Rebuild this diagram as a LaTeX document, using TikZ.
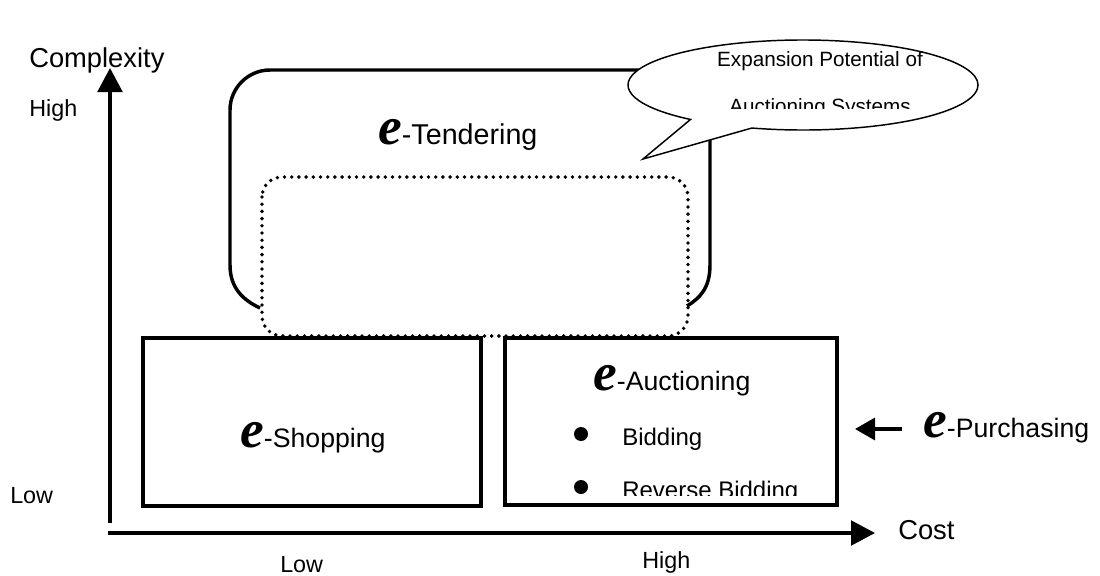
\documentclass[tikz,border=0pt]{standalone}
\usepackage{fontspec}
\setmainfont{Liberation Sans}
\newfontfamily\efont{Liberation Serif}
\usetikzlibrary{arrows.meta,calc}
\newcommand\eletter{{\efont\fontsize{40}{40}\selectfont\bfseries\itshape e}}
\begin{document}
\begin{tikzpicture}[x=0.75pt,y=-0.75pt,
  box/.style={line width=2.6pt},
  dotbox/.style={line width=2.9pt, dash pattern=on 0pt off 5.4pt, line cap=round},
  axisarrow/.style={line width=2.5pt, -{Triangle[length=18pt,width=18.5pt]}},
  parrow/.style={line width=2.5pt, -{Triangle[length=15pt,width=16.5pt]}},
  callout/.style={line width=1.1pt, fill=white, line join=miter},
  lbl/.style={inner sep=0pt, anchor=base west},
  big/.style={font=\fontsize{20}{24}\selectfont},
  mid/.style={font=\fontsize{17.5}{21}\selectfont},
  small/.style={font=\fontsize{15.5}{19}\selectfont}]
\useasboundingbox (0,0) rectangle (1100,575);

% axes
\coordinate (yb) at (110,523);
\coordinate (yt) at (110,68);
\coordinate (xl) at (108,533);
\coordinate (xr) at (875,533);
\draw[axisarrow] (yb) -- (yt);
\draw[axisarrow] (xl) -- (xr);

% e-Tendering frame (open at bottom)
\draw[box] (260,308) .. controls (243,300) and (230,288) .. (230,265)
  -- (230,110) .. controls (230,88) and (248,70) .. (270,70)
  -- (670,70) .. controls (692,70) and (710,88) .. (710,110)
  -- (710,265) .. controls (710,288) and (700,298) .. (687,306);

% dotted expansion area
\draw[dotbox, rounded corners=15pt] (262,177) rectangle (688,336);

% lower boxes
\draw[box] (143,338) rectangle (481,506);
\draw[box] (505,338) rectangle (837,505);

% callout
\coordinate (cc) at (803,85);
\coordinate (tip) at (643,159);
\draw[callout] ($(cc)+(130:175 and 45)$) -- (tip) -- ($(cc)+(107:175 and 45)$)
  arc[start angle=107, end angle=-230, x radius=175, y radius=45] -- cycle;
\node[inner sep=0pt, anchor=base, small] (exp1) at (820,66) {Expansion Potential of};
\begin{scope}
  \clip (700,80) rectangle (950,108);
  \node[inner sep=0pt, anchor=base, small] (exp2) at (820,113) {Auctioning Systems};
\end{scope}

% box texts
\node[lbl, font=\fontsize{21.5}{25}\selectfont] (tend) at (378,144) {\eletter-Tendering};
\node[lbl, big] (shop) at (240,447) {\eletter-Shopping};
\node[lbl, big] (auc) at (593,390) {\eletter-Auctioning};
\node[circle, fill, inner sep=0pt, minimum size=10.5pt] (b1) at (581,434) {};
\node[lbl, font=\fontsize{18}{22}\selectfont] (bid) at (622,445) {Bidding};
\begin{scope}
  \clip (560,470) rectangle (830,495);
  \node[circle, fill, inner sep=0pt, minimum size=10.5pt] (b2) at (581,487) {};
  \node[lbl, font=\fontsize{18}{22}\selectfont] (rbid) at (622,498) {Reverse Bidding};
\end{scope}

% e-Purchasing
\node[lbl, big] (purch) at (923,437) {\eletter-Purchasing};
\coordinate (pa) at (902,429);
\coordinate (pb) at (855,429);
\draw[parrow] (pa) -- (pb);

% axis labels
\node[lbl, font=\fontsize{20.5}{24}\selectfont] (cplx) at (29,67) {Complexity};
\node[lbl, mid] (yhigh) at (29,116) {High};
\node[lbl, mid] (ylow) at (10,503) {Low};
\node[lbl, font=\fontsize{20.5}{24}\selectfont] (cost) at (898,539) {Cost};
\node[lbl, mid] (xlow) at (280,572) {Low};
\node[lbl, mid] (xhigh) at (642,568) {High};
\end{tikzpicture}
\end{document}
